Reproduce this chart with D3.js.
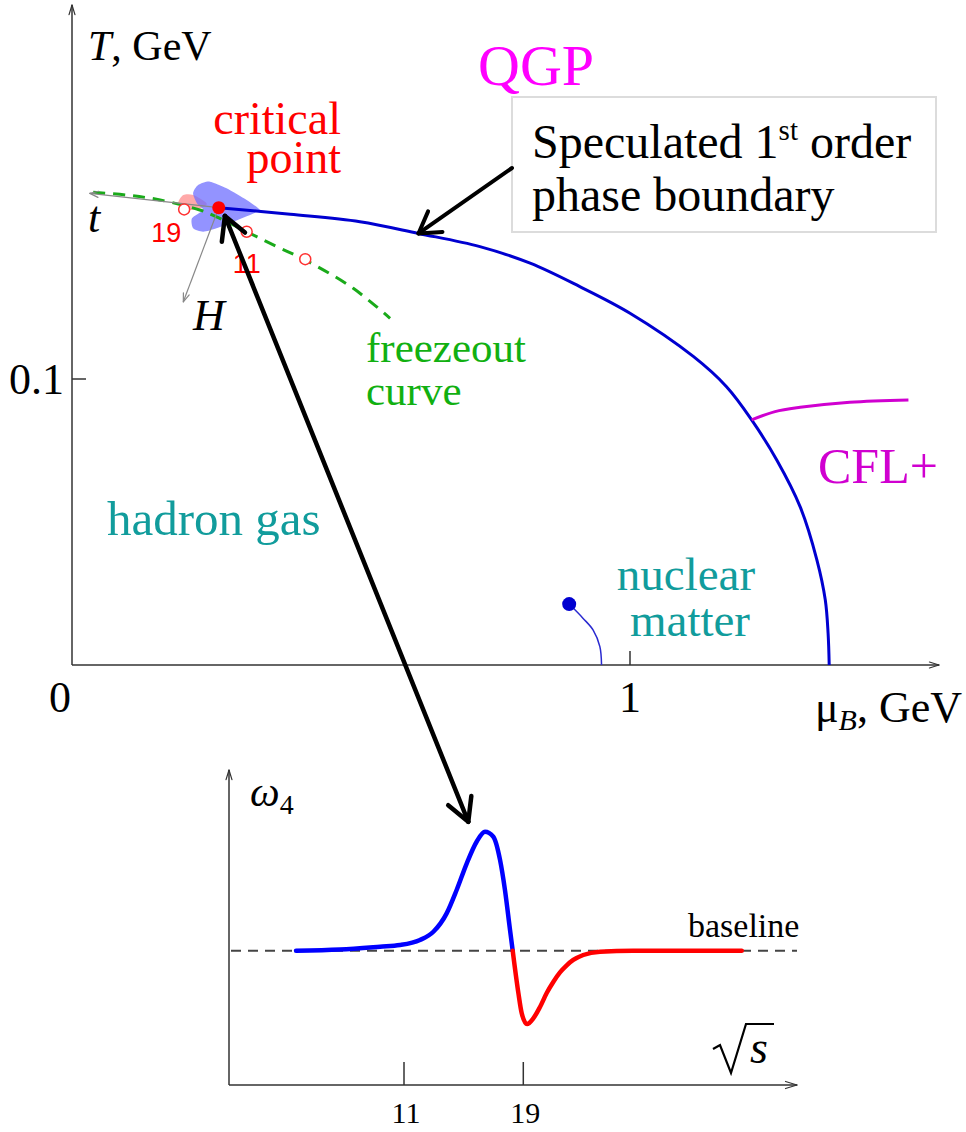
<!DOCTYPE html>
<html>
<head>
<meta charset="utf-8">
<script src="https://cdn.jsdelivr.net/npm/d3@7"></script>
<style>
  body { margin: 0; background: #fff; }
  text { font-family: "Liberation Serif", "Times New Roman", serif; }
  text.sans { font-family: "Liberation Sans", Arial, sans-serif; }
</style>
</head>
<body>
<div class="chart"></div>
<script>
var svgWidth = 966;
var svgHeight = 1132;

// phase diagram: (muB GeV, T GeV)
var boundaryMu = [0.263, 0.391, 0.516, 0.621, 0.731, 0.821, 0.910, 1.000, 1.114, 1.173, 1.218, 1.263, 1.305, 1.335, 1.350, 1.355, 1.357];
var boundaryT  = [0.1599, 0.1576, 0.1550, 0.1509, 0.1463, 0.1405, 0.1323, 0.1230, 0.1078, 0.0973, 0.0857, 0.0717, 0.0553, 0.0367, 0.0227, 0.0111, 0];

var cflMu = [1.218, 1.260, 1.305, 1.394, 1.499];
var cflT  = [0.0857, 0.0886, 0.0901, 0.0919, 0.0927];

var freezeMu = [0.038, 0.098, 0.158, 0.229, 0.259, 0.313, 0.367, 0.418, 0.504, 0.570];
var freezeT  = [0.1653, 0.1643, 0.1626, 0.1591, 0.1567, 0.1515, 0.1463, 0.1416, 0.1317, 0.1212];

var nuclearMu = [0.891, 0.916, 0.934, 0.946, 0.949];
var nuclearT  = [0.0213, 0.0163, 0.0122, 0.0064, 0];

var energyLabels = ["19", "11", ""];
var energyMu = [0.201, 0.313, 0.418];
var energyT  = [0.1593, 0.1515, 0.1419];

var criticalMu = 0.263;
var criticalT = 0.1599;

var lobeMu = [0.337, 0.313, 0.277, 0.247, 0.226, 0.217, 0.224, 0.235, 0.215, 0.217, 0.235, 0.259, 0.289, 0.325];
var lobeT  = [0.1591, 0.1626, 0.1667, 0.1690, 0.1678, 0.1649, 0.1614, 0.1591, 0.1562, 0.1527, 0.1515, 0.1527, 0.1550, 0.1579];

var pinkMu = [0.1905, 0.1995, 0.2174, 0.2414, 0.2294, 0.2056];
var pinkT  = [0.1614, 0.1643, 0.1643, 0.1614, 0.1597, 0.1591];

var muTicks = [0, 1];
var tTicks = [0.1];

// omega_4 vs sqrt(s)
var blueS = [3.76, 6.71, 9.39, 10.73, 12.07, 12.97, 13.86, 14.53, 15.21, 15.88, 16.43, 16.99, 17.44, 17.77, 18.11, 18.29];
var blueW = [1.000, 1.009, 1.030, 1.042, 1.080, 1.141, 1.278, 1.452, 1.651, 1.813, 1.886, 1.849, 1.676, 1.452, 1.154, 1.000];
var redS = [18.29, 18.67, 18.89, 19.25, 19.67, 20.12, 20.57, 21.01, 21.46, 21.91, 22.35, 23.02, 24.15, 26.36, 33.65];
var redW = [1.000, 0.685, 0.536, 0.454, 0.496, 0.581, 0.685, 0.767, 0.838, 0.891, 0.931, 0.968, 0.993, 1.000, 1.000];
var sTicks = [11, 19];
var baselineW = 1;

var svg = d3.select(".chart")
  .append("svg")
  .attr("width", svgWidth)
  .attr("height", svgHeight)
  .attr("font-family", "Liberation Serif, Times New Roman, serif");

var xMu = d3.scaleLinear().domain([0, 1]).range([72, 630]);
var yT = d3.scaleLinear().domain([0, 0.1]).range([665, 379]);

var xS = d3.scaleLinear().domain([11, 19]).range([404, 523.3]);
var yW = d3.scaleLinear().domain([0, 1]).range([1085, 950.7]);

function zip(a, b) { return a.map((v, i) => [v, b[i]]); }

function chevron(g, tip, from, len, ang, color, w) {
  var dx = from[0] - tip[0], dy = from[1] - tip[1];
  var L = Math.sqrt(dx * dx + dy * dy);
  dx /= L; dy /= L;
  [ang, -ang].forEach(function(a) {
    var c = Math.cos(a), s = Math.sin(a);
    g.append("line")
      .attr("x1", tip[0]).attr("y1", tip[1])
      .attr("x2", tip[0] + len * (dx * c - dy * s))
      .attr("y2", tip[1] + len * (dx * s + dy * c))
      .attr("stroke", color).attr("stroke-width", w)
      .attr("stroke-linecap", "round");
  });
}

var lineMu = d3.line()
  .x(d => xMu(d[0]))
  .y(d => yT(d[1]))
  .curve(d3.curveCatmullRom.alpha(0.5));

// ---- upper panel ----
var phaseG = svg.append("g");
var axisColor = "#333";
var muEnd = xMu.invert(939), tEnd = yT.invert(5);

phaseG.append("line").attr("x1", xMu(0)).attr("y1", yT(0)).attr("x2", xMu(0)).attr("y2", yT(tEnd))
  .attr("stroke", axisColor).attr("stroke-width", 1.5);
phaseG.append("line").attr("x1", xMu(0)).attr("y1", yT(0)).attr("x2", xMu(muEnd)).attr("y2", yT(0))
  .attr("stroke", axisColor).attr("stroke-width", 1.5);
chevron(phaseG, [xMu(0), yT(tEnd)], [xMu(0), yT(0)], 10, 0.3, axisColor, 1.2);
chevron(phaseG, [xMu(muEnd), yT(0)], [xMu(0), yT(0)], 10, 0.3, axisColor, 1.2);

phaseG.selectAll(".ttick").data(tTicks).enter().append("line")
  .attr("x1", xMu(0)).attr("x2", xMu(0) + 14)
  .attr("y1", d => yT(d)).attr("y2", d => yT(d))
  .attr("stroke", axisColor).attr("stroke-width", 1.5);
phaseG.selectAll(".mutick").data(muTicks.filter(d => d > 0)).enter().append("line")
  .attr("x1", d => xMu(d)).attr("x2", d => xMu(d))
  .attr("y1", yT(0)).attr("y2", yT(0) - 14)
  .attr("stroke", axisColor).attr("stroke-width", 1.5);

phaseG.selectAll(".ttlab").data(tTicks).enter().append("text")
  .attr("x", xMu(0) - 8).attr("y", d => yT(d) + 15)
  .attr("text-anchor", "end").attr("font-size", 44)
  .text(d => d);
phaseG.selectAll(".mulab").data(muTicks).enter().append("text")
  .attr("x", d => xMu(d) + (d === 0 ? -12 : 0)).attr("y", yT(0) + 47)
  .attr("text-anchor", "middle").attr("font-size", 44)
  .text(d => d);

var tLab = phaseG.append("text").attr("x", 88).attr("y", 60).attr("font-size", 42);
tLab.append("tspan").attr("font-style", "italic").text("T");
tLab.append("tspan").text(", GeV");

var muLab = phaseG.append("text").attr("x", 815).attr("y", 722).attr("font-size", 44);
muLab.append("tspan").text("μ");
muLab.append("tspan").attr("font-style", "italic").attr("font-size", 30).attr("dy", 8).text("B");
muLab.append("tspan").attr("dy", -8).text(", GeV");

// shaded regions around the critical point
phaseG.append("path").datum(zip(pinkMu, pinkT))
  .attr("d", d3.line().x(d => xMu(d[0])).y(d => yT(d[1])).curve(d3.curveCardinalClosed.tension(0.2)))
  .attr("fill", "#ff8c8c").attr("opacity", 0.75);
phaseG.append("path").datum(zip(lobeMu, lobeT))
  .attr("d", d3.line().x(d => xMu(d[0])).y(d => yT(d[1])).curve(d3.curveCardinalClosed.tension(0.3)))
  .attr("fill", "#6f6fff").attr("opacity", 0.75);

// freezeout curve
phaseG.append("path").datum(zip(freezeMu, freezeT))
  .attr("d", lineMu).attr("fill", "none")
  .attr("stroke", "#1aaa1a").attr("stroke-width", 3)
  .attr("stroke-dasharray", "12,8");

// phase boundary
phaseG.append("path").datum(zip(boundaryMu, boundaryT))
  .attr("d", lineMu).attr("fill", "none")
  .attr("stroke", "#0000d0").attr("stroke-width", 3);

phaseG.append("path").datum(zip(cflMu, cflT))
  .attr("d", lineMu).attr("fill", "none")
  .attr("stroke", "#d000d0").attr("stroke-width", 3);

phaseG.append("path").datum(zip(nuclearMu, nuclearT))
  .attr("d", lineMu).attr("fill", "none")
  .attr("stroke", "#2a2ad0").attr("stroke-width", 1.5);
phaseG.append("circle")
  .attr("cx", xMu(nuclearMu[0])).attr("cy", yT(nuclearT[0])).attr("r", 7)
  .attr("fill", "#0000d0");

// t and H directions
var cp = [xMu(criticalMu), yT(criticalT)];
var tTip = [xMu(0.032), yT(0.1649)];
var hTip = [xMu(0.1995), yT(0.1270)];
[tTip, hTip].forEach(function(p) {
  phaseG.append("line").attr("x1", cp[0]).attr("y1", cp[1]).attr("x2", p[0]).attr("y2", p[1])
    .attr("stroke", "#888").attr("stroke-width", 1.2);
  chevron(phaseG, p, cp, 9, 0.35, "#888", 1.2);
});

// collision energies on freezeout curve
phaseG.selectAll(".energy").data(energyMu).enter().append("circle")
  .attr("cx", d => xMu(d)).attr("cy", (d, i) => yT(energyT[i])).attr("r", 5.5)
  .attr("fill", "#fff").attr("stroke", "#ff3030").attr("stroke-width", 1.5);
phaseG.selectAll(".elab").data(energyLabels).enter().append("text")
  .attr("class", "sans")
  .attr("font-family", "Liberation Sans, Arial, sans-serif")
  .attr("x", (d, i) => xMu(energyMu[i]) + (i === 0 ? -18 : 0))
  .attr("y", (d, i) => yT(energyT[i]) + (i === 0 ? 33 : 41))
  .attr("text-anchor", "middle").attr("font-size", 27)
  .attr("fill", "#ff0000").text(d => d);

phaseG.append("circle").attr("cx", cp[0]).attr("cy", cp[1]).attr("r", 6.5).attr("fill", "#ff0000");

// labels
phaseG.append("text").attr("x", 341).attr("y", 134).attr("text-anchor", "end")
  .attr("font-size", 46).attr("fill", "#ff0000").text("critical");
phaseG.append("text").attr("x", 341).attr("y", 173).attr("text-anchor", "end")
  .attr("font-size", 46).attr("fill", "#ff0000").text("point");
phaseG.append("text").attr("x", 478).attr("y", 85)
  .attr("font-size", 58).attr("fill", "#ff00ff").text("QGP");
phaseG.append("text").attr("x", 88).attr("y", 232).attr("font-style", "italic")
  .attr("font-size", 44).text("t");
phaseG.append("text").attr("x", 193).attr("y", 330).attr("font-style", "italic")
  .attr("font-size", 44).text("H");
phaseG.append("text").attr("x", 366).attr("y", 362)
  .attr("font-size", 43).attr("fill", "#11b011").text("freezeout");
phaseG.append("text").attr("x", 366).attr("y", 405)
  .attr("font-size", 43).attr("fill", "#11b011").text("curve");
phaseG.append("text").attr("x", 107).attr("y", 535)
  .attr("font-size", 49).attr("fill", "#119c9c").text("hadron gas");
phaseG.append("text").attr("x", 818).attr("y", 483)
  .attr("font-size", 50).attr("fill", "#d000d0").text("CFL+");
phaseG.append("text").attr("x", 686).attr("y", 590).attr("text-anchor", "middle")
  .attr("font-size", 47).attr("fill", "#119c9c").text("nuclear");
phaseG.append("text").attr("x", 690).attr("y", 636).attr("text-anchor", "middle")
  .attr("font-size", 47).attr("fill", "#119c9c").text("matter");

// annotation box
phaseG.append("rect").attr("x", 512).attr("y", 97).attr("width", 424).attr("height", 135)
  .attr("fill", "#fff").attr("stroke", "#dcdcdc").attr("stroke-width", 2);
var boxLine1 = phaseG.append("text").attr("x", 532).attr("y", 158).attr("font-size", 48);
boxLine1.append("tspan").text("Speculated 1");
boxLine1.append("tspan").attr("font-size", 29).attr("dy", -18).text("st");
boxLine1.append("tspan").attr("dy", 18).text(" order");
phaseG.append("text").attr("x", 532).attr("y", 211).attr("font-size", 48).text("phase boundary");

var boxTip = [xMu(0.621), yT(0.1509)];
var boxFrom = [512, 168];
phaseG.append("line").attr("x1", boxFrom[0]).attr("y1", boxFrom[1])
  .attr("x2", boxTip[0]).attr("y2", boxTip[1])
  .attr("stroke", "#000").attr("stroke-width", 4).attr("stroke-linecap", "round");
chevron(phaseG, boxTip, boxFrom, 24, 0.55, "#000", 4);

// ---- lower panel ----
var omegaG = svg.append("g");
var sEnd = xS.invert(797), wTop = yW.invert(770), sStart = xS.invert(229);

omegaG.append("line").attr("x1", xS(sStart)).attr("y1", yW(0)).attr("x2", xS(sStart)).attr("y2", yW(wTop))
  .attr("stroke", axisColor).attr("stroke-width", 1.5);
omegaG.append("line").attr("x1", xS(sStart)).attr("y1", yW(0)).attr("x2", xS(sEnd)).attr("y2", yW(0))
  .attr("stroke", axisColor).attr("stroke-width", 1.5);
chevron(omegaG, [xS(sStart), yW(wTop)], [xS(sStart), yW(0)], 10, 0.3, axisColor, 1.2);
chevron(omegaG, [xS(sEnd), yW(0)], [xS(sStart), yW(0)], 12, 0.3, axisColor, 1.2);

omegaG.selectAll(".stick").data(sTicks).enter().append("line")
  .attr("x1", d => xS(d)).attr("x2", d => xS(d))
  .attr("y1", yW(0)).attr("y2", yW(0) - 23)
  .attr("stroke", axisColor).attr("stroke-width", 1.5);
omegaG.selectAll(".slab").data(sTicks).enter().append("text")
  .attr("x", d => xS(d) + 2).attr("y", yW(0) + 38)
  .attr("text-anchor", "middle").attr("font-size", 30).text(d => d);

omegaG.append("line")
  .attr("x1", xS(sStart) + 2).attr("x2", xS(sEnd))
  .attr("y1", yW(baselineW)).attr("y2", yW(baselineW))
  .attr("stroke", "#444").attr("stroke-width", 2).attr("stroke-dasharray", "10,7");

var lineS = d3.line()
  .x(d => xS(d[0]))
  .y(d => yW(d[1]))
  .curve(d3.curveMonotoneX);

omegaG.append("path").datum(zip(blueS, blueW))
  .attr("d", lineS).attr("fill", "none")
  .attr("stroke", "#0000ff").attr("stroke-width", 4.5).attr("stroke-linecap", "round");
omegaG.append("path").datum(zip(redS, redW))
  .attr("d", lineS).attr("fill", "none")
  .attr("stroke", "#ff0000").attr("stroke-width", 4.5).attr("stroke-linecap", "round");

var wLab = omegaG.append("text").attr("x", 250).attr("y", 806).attr("font-size", 42);
wLab.append("tspan").attr("font-style", "italic").text("ω");
wLab.append("tspan").attr("font-size", 28).attr("dy", 8).text("4");

omegaG.append("text").attr("x", 688).attr("y", 937).attr("font-size", 34).text("baseline");

// sqrt(s) label: radical sign drawn as a path, s as text
omegaG.append("path")
  .attr("d", "M713,1049 L720,1045 L731,1073 L746,1024 L774,1024")
  .attr("fill", "none").attr("stroke", "#000").attr("stroke-width", 2.2)
  .attr("stroke-linejoin", "miter");
omegaG.append("text").attr("x", 750).attr("y", 1063).attr("font-size", 46)
  .attr("font-style", "italic").text("s");

// double arrow: critical point <-> peak of omega_4
var a1 = [xMu(0.274), yT(0.1570)];
var a2 = [xS(15.31), yW(1.96)];
svg.append("line").attr("x1", a1[0]).attr("y1", a1[1]).attr("x2", a2[0]).attr("y2", a2[1])
  .attr("stroke", "#000").attr("stroke-width", 4.5).attr("stroke-linecap", "round");
chevron(svg, a1, a2, 26, 0.5, "#000", 4.5);
chevron(svg, a2, a1, 26, 0.5, "#000", 4.5);
</script>
</body>
</html>
